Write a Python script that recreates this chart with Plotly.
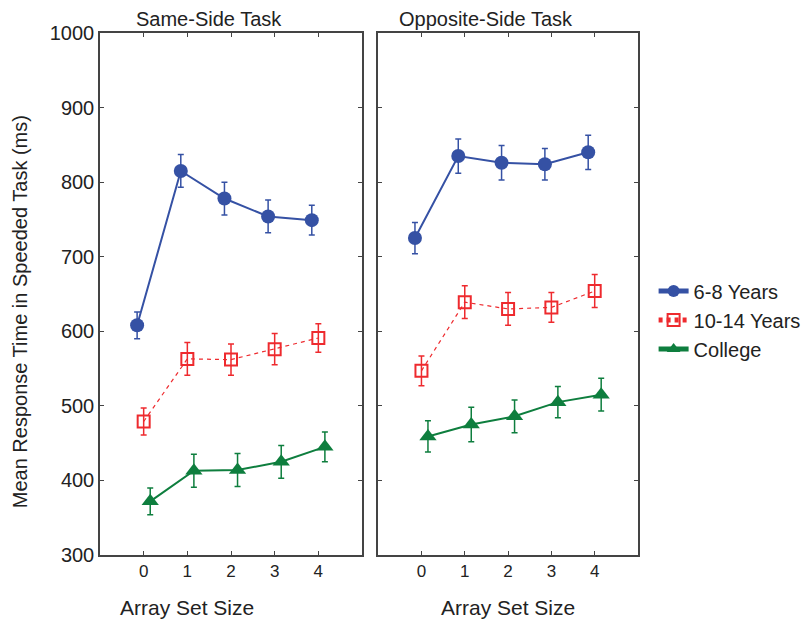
import plotly.graph_objects as go

set_sizes = [0, 1, 2, 3, 4]
y_ticks = [300, 400, 500, 600, 700, 800, 900, 1000]

# Same-Side Task
same_young = [608, 815, 778, 754, 749]
same_young_err = [18, 22, 22, 22, 20]
same_mid = [479, 563, 562, 576, 591]
same_mid_err = [18, 22, 21, 21, 19]
same_college = [372, 413, 414, 425, 445]
same_college_err = [18, 22, 22, 22, 20]

# Opposite-Side Task
opp_young = [725, 835, 826, 824, 840]
opp_young_err = [21, 23, 23, 21, 23]
opp_mid = [547, 639, 630, 632, 654]
opp_mid_err = [20, 22, 22, 20, 22]
opp_college = [459, 475, 486, 505, 515]
opp_college_err = [21, 23, 22, 21, 22]

names = ["6-8 Years", "10-14 Years", "College"]
colors = ["#3551A4", "#EE2A2E", "#0E7E3E"]
offsets = [-0.15, 0.0, 0.15]

FONT = "Liberation Sans, Arial, sans-serif"
fig = go.Figure()

series = [
    (same_young, same_young_err, opp_young, opp_young_err),
    (same_mid, same_mid_err, opp_mid, opp_mid_err),
    (same_college, same_college_err, opp_college, opp_college_err),
]
markers = [
    dict(symbol="circle", size=14),
    dict(symbol="square-open", size=12, line=dict(width=2)),
    dict(symbol="triangle-up", size=15),
]
lines = [dict(width=2), dict(width=1.2, dash="4px,4px"), dict(width=2)]

for i, (sv, se, ov, oe) in enumerate(series):
    for j, (vals, errs, xa, ya) in enumerate([(sv, se, "x", "y"), (ov, oe, "x2", "y2")]):
        fig.add_trace(go.Scatter(
            x=[s + offsets[i] for s in set_sizes], y=vals,
            mode="lines+markers", name=names[i],
            legendgroup=names[i], showlegend=(j == 0),
            line=dict(color=colors[i], **lines[i]),
            marker=dict(color=colors[i], **markers[i]),
            error_y=dict(type="data", array=errs, color=colors[i], thickness=1.5, width=3),
            xaxis=xa, yaxis=ya,
        ))

axis_common = dict(
    showline=True, linecolor="#444", linewidth=1.5, mirror="allticks",
    ticks="inside", ticklen=4, tickcolor="#444", tickwidth=1,
    showgrid=False, zeroline=False, automargin=False,
)

fig.update_layout(
    width=812, height=624,
    margin=dict(l=100, r=174, t=33, b=69, autoexpand=False),
    plot_bgcolor="white", paper_bgcolor="white",
    xaxis=dict(domain=[0, 0.487], range=[-1, 5], tickvals=set_sizes, anchor="y",
               tickfont=dict(family=FONT, size=17, color="#222"), **axis_common),
    xaxis2=dict(domain=[0.517, 1], range=[-1, 5], tickvals=set_sizes, anchor="y2",
                tickfont=dict(family=FONT, size=17, color="#222"), **axis_common),
    yaxis=dict(range=[300, 1000], tickvals=y_ticks, anchor="x",
               tickfont=dict(family=FONT, size=20, color="#222"), **axis_common),
    yaxis2=dict(range=[300, 1000], tickvals=y_ticks, anchor="x2", showticklabels=False, **axis_common),
    legend=dict(x=1.029, y=0.45, xanchor="left", yanchor="middle",
                font=dict(family=FONT, size=20, color="#222"),
                tracegroupgap=0, itemsizing="constant"),
    font=dict(family=FONT, color="#222"),
)

fig.add_annotation(text="Same-Side Task", x=1.5, xref="x", y=1.027, yref="paper",
                   yanchor="middle", showarrow=False, font=dict(family=FONT, size=20, color="#222"))
fig.add_annotation(text="Opposite-Side Task", x=1.5, xref="x2", y=1.027, yref="paper",
                   yanchor="middle", showarrow=False, font=dict(family=FONT, size=20, color="#222"))
fig.add_annotation(text="Array Set Size", x=1, xref="x", y=-0.1015, yref="paper",
                   yanchor="middle", showarrow=False, font=dict(family=FONT, size=21, color="#222"))
fig.add_annotation(text="Array Set Size", x=2, xref="x2", y=-0.1015, yref="paper",
                   yanchor="middle", showarrow=False, font=dict(family=FONT, size=21, color="#222"))
fig.add_annotation(text="Mean Response Time in Speeded Task (ms)", x=-0.1487, xref="paper",
                   y=0.467, yref="paper", textangle=-90, xanchor="center", yanchor="middle",
                   showarrow=False, font=dict(family=FONT, size=20, color="#222"))

fig.write_html("out.html")
